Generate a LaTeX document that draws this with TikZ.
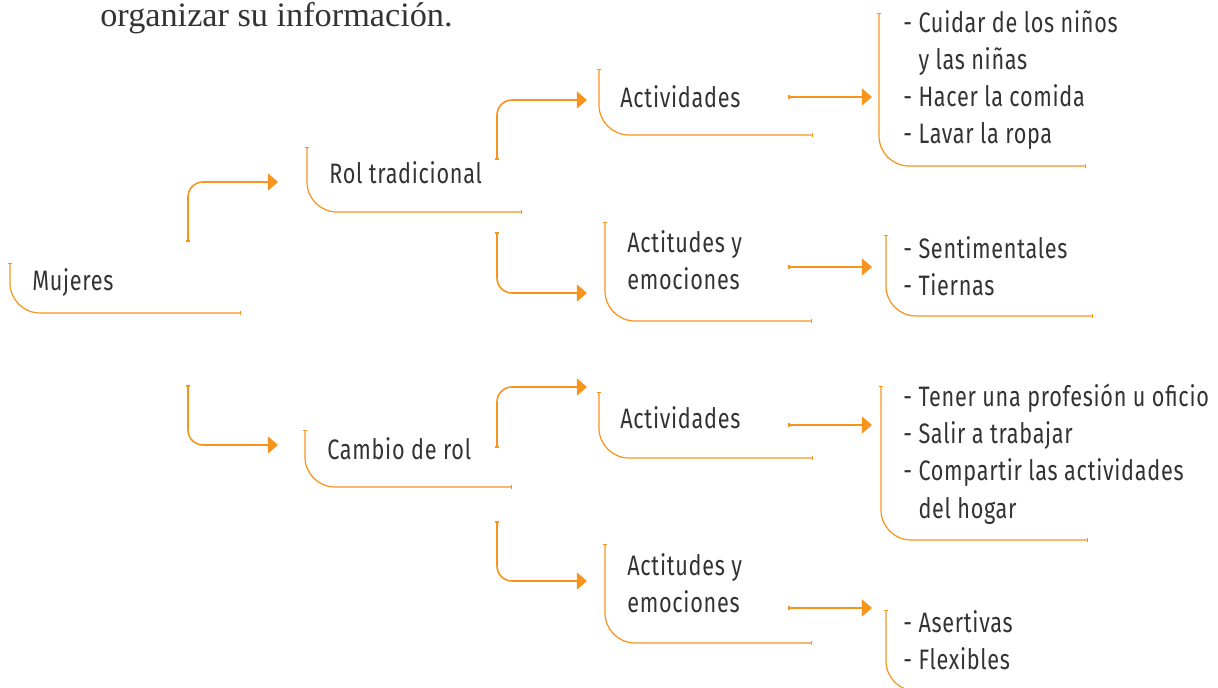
\documentclass[tikz,border=0pt]{standalone}
\usepackage{fontspec}
\setmainfont{Liberation Serif}
\newfontfamily\diagfont[FakeStretch=0.77,LetterSpace=2.5]{Fira Sans}
\usetikzlibrary{arrows.meta,positioning}
\definecolor{naranja}{HTML}{F7941D}
\definecolor{texto}{HTML}{333333}
\tikzset{
  txt/.style={anchor=west,inner sep=0pt,align=left,text=texto,
    font=\diagfont\fontsize{16}{21.2}\selectfont},
  llave/.style={draw=naranja,line width=0.7pt,rounded corners=0.6cm,
    {Bar[width=2.4pt]}-{Bar[width=2.4pt]}},
  flecha/.style={draw=naranja,line width=0.9pt,rounded corners=0.3cm,
    {Bar[width=2.4pt]}-{Triangle[length=5.7pt,width=9.6pt]}}
}

\begin{document}
\begin{tikzpicture}[x=0.02cm,y=-0.02cm]
  \useasboundingbox (0,0) rectangle (1218,688);
  \node[anchor=base west,inner sep=0pt,text=texto,font=\fontsize{19.5}{23}\selectfont]
    (titulo) at (100,27) {organizar su información.};

  % textos
  \node[txt] (mujeres)  at (32,283)  {Mujeres};
  \node[txt] (rol_trad) at (329,173) {Rol tradicional};
  \node[txt] (cambio)   at (327,449) {Cambio de rol};
  \node[txt] (act_t)    at (620,97)  {Actividades};
  \node[txt] (emo_t)    at (627,260) {Actitudes y\\emociones};
  \node[txt] (act_c)    at (620,418) {Actividades};
  \node[txt] (emo_c)    at (627,583) {Actitudes y\\emociones};
  \node[txt] (lst_act_t) at (903,80) {- Cuidar de los niños\\\hphantom{- }y las niñas\\- Hacer la comida\\- Lavar la ropa};
  \node[txt] (lst_emo_t) at (903,266) {- Sentimentales\\- Tiernas};
  \node[txt] (lst_act_c) at (903,454) {- Tener una profesión u oficio\\- Salir a trabajar\\- Compartir las actividades\\\hphantom{- }del hogar};
  \node[txt] (lst_emo_c) at (903,640) {- Asertivas\\- Flexibles};

  % llaves
  \draw[llave] (10,263) -- (10,313) -- (241,313);
  \draw[llave] (307,147) -- (307,212) -- (522,212);
  \draw[llave] (305,430) -- (305,487) -- (512,487);
  \draw[llave] (599,69) -- (599,135) -- (813,135);
  \draw[llave] (605,222) -- (605,321) -- (812,321);
  \draw[llave] (599,392) -- (599,458) -- (813,458);
  \draw[llave] (605,544) -- (605,643) -- (812,643);
  \draw[llave] (879,13) -- (879,166) -- (1086,166);
  \draw[llave] (886,235) -- (886,316) -- (1093,316);
  \draw[llave] (881,386) -- (881,540) -- (1088,540);
  \draw[llave] (886,610) -- (886,691) -- (1093,691);

  % puntos de las flechas
  \coordinate (m_up)  at (188,242);  \coordinate (rt_in) at (278,182);
  \coordinate (m_dn)  at (188,385);  \coordinate (cr_in) at (278,445);
  \coordinate (rt_up) at (497,160);  \coordinate (at_in) at (587,100);
  \coordinate (rt_dn) at (497,232);  \coordinate (et_in) at (587,293);
  \coordinate (cr_up) at (497,448);  \coordinate (ac_in) at (587,387);
  \coordinate (cr_dn) at (497,521);  \coordinate (ec_in) at (587,581);
  \coordinate (at_out) at (788,97);  \coordinate (lat_in) at (872,97);
  \coordinate (et_out) at (788,267); \coordinate (let_in) at (872,267);
  \coordinate (ac_out) at (788,425); \coordinate (lac_in) at (872,425);
  \coordinate (ec_out) at (788,608); \coordinate (lec_in) at (872,608);

  \draw[flecha] (m_up) |- (rt_in);
  \draw[flecha] (m_dn) |- (cr_in);
  \draw[flecha] (rt_up) |- (at_in);
  \draw[flecha] (rt_dn) |- (et_in);
  \draw[flecha] (cr_up) |- (ac_in);
  \draw[flecha] (cr_dn) |- (ec_in);
  \draw[flecha] (at_out) -- (lat_in);
  \draw[flecha] (et_out) -- (let_in);
  \draw[flecha] (ac_out) -- (lac_in);
  \draw[flecha] (ec_out) -- (lec_in);
\end{tikzpicture}
\end{document}
